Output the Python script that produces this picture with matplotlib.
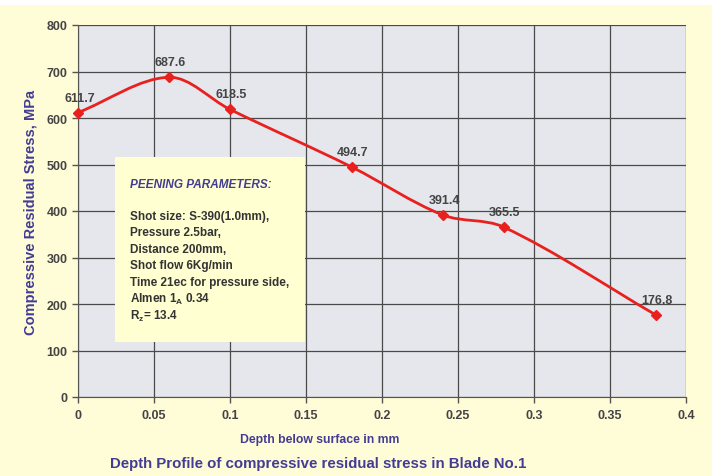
import matplotlib.pyplot as plt
import numpy as np
from matplotlib.path import Path
from matplotlib.patches import PathPatch, Rectangle

plt.rcParams['font.family'] = ['Liberation Sans', 'DejaVu Sans']

# data
depth = [0, 0.06, 0.1, 0.18, 0.24, 0.28, 0.38]
stress = [611.7, 687.6, 618.5, 494.7, 391.4, 365.5, 176.8]
x_ticks = [0, 0.05, 0.1, 0.15, 0.2, 0.25, 0.3, 0.35, 0.4]
x_tick_labels = ['0', '0.05', '0.1', '0.15', '0.2', '0.25', '0.3', '0.35', '0.4']
y_ticks = [0, 100, 200, 300, 400, 500, 600, 700, 800]

params_title = 'PEENING PARAMETERS:'
params_lines = ['Shot size: S-390(1.0mm),', 'Pressure 2.5bar,', 'Distance 200mm,',
                'Shot flow 6Kg/min', 'Time 21ec for pressure side,',
                r'Almen 1$_\mathregular{A}$ 0.34', r'R$_\mathregular{z}$= 13.4']

bg_yellow = '#FFFCD8'
plot_bg = '#E5E7EC'
line_red = '#E8211F'
label_blue = '#433C94'
tick_grey = '#444444'

fig = plt.figure(figsize=(7.12, 4.77), dpi=100, facecolor='white')
fig.patches.append(Rectangle((0, 0), 1, 471/477, transform=fig.transFigure,
                             facecolor=bg_yellow, edgecolor='none', zorder=-10))

ax = fig.add_axes([78/712, 79/477, 608/712, 372/477])
ax.set_facecolor(plot_bg)
ax.set_xlim(0, 0.4)
ax.set_ylim(0, 800)
ax.set_xticks(x_ticks)
ax.set_xticklabels(x_tick_labels)
ax.set_yticks(y_ticks)
ax.grid(True, color='#4a4a4a', linewidth=0.9)
ax.set_axisbelow(True)
for s in ['top', 'right']:
    ax.spines[s].set_visible(False)
for s in ['left', 'bottom']:
    ax.spines[s].set_color('#555555')
ax.tick_params(colors='#555555', labelcolor=tick_grey, length=4, width=1)
for lab in ax.get_xticklabels() + ax.get_yticklabels():
    lab.set_fontweight('bold')
    lab.set_fontsize(9)
ax.tick_params(axis='x', pad=5)

# smoothed line: chordal Catmull-Rom -> cubic Bezier, lengths measured on screen
pts = np.column_stack([depth, stress])
scr = ax.transData.transform(pts)
seg = np.hypot(*np.diff(scr, axis=0).T)
tang = np.zeros_like(pts)
tang[0] = (pts[1] - pts[0]) / seg[0]
tang[-1] = (pts[-1] - pts[-2]) / seg[-1]
for i in range(1, len(pts) - 1):
    tang[i] = (pts[i + 1] - pts[i - 1]) / (seg[i - 1] + seg[i])
verts = [tuple(pts[0])]
codes = [Path.MOVETO]
for i in range(len(pts) - 1):
    c1 = pts[i] + tang[i] * seg[i] / 3
    c2 = pts[i + 1] - tang[i + 1] * seg[i] / 3
    verts += [tuple(c1), tuple(c2), tuple(pts[i + 1])]
    codes += [Path.CURVE4] * 3
ax.add_patch(PathPatch(Path(verts, codes), facecolor='none', edgecolor=line_red,
                       linewidth=2, zorder=3))
ax.plot(depth, stress, linestyle='none', marker='D', markersize=5.5,
        color=line_red, zorder=4, clip_on=False)

for xv, yv in zip(depth, stress):
    ax.annotate(f'{yv}', (xv, yv), textcoords='offset points', xytext=(1, 6.5),
                ha='center', va='bottom', fontsize=9, fontweight='bold', color=tick_grey)

ax.set_ylabel('Compressive Residual Stress, MPa', fontsize=10.5, fontweight='bold',
              color=label_blue, labelpad=6)
fig.text(320 / 712, (477 - 440) / 477, 'Depth below surface in mm', ha='center', va='center',
         fontsize=8.8, fontweight='bold', color=label_blue)
fig.text(318 / 712, (477 - 464) / 477, 'Depth Profile of compressive residual stress in Blade No.1',
         ha='center', va='center', fontsize=10.8, fontweight='bold', color=label_blue)

# parameter box
bx0, bx1 = (115 - 78) / 608, (305 - 78) / 608
by0, by1 = (398 - 343) / 372, (398 - 158) / 372
ax.add_patch(Rectangle((bx0, by0), bx1 - bx0, by1 - by0, transform=ax.transAxes,
                       facecolor='#FFFFD2', edgecolor='none', zorder=6))
tx = (130 - 78) / 608
ax.text(tx, (398 - 185) / 372, params_title, transform=ax.transAxes, fontsize=8.5,
        fontweight='bold', fontstyle='italic', color=label_blue, va='center', zorder=7)
for k, line in enumerate(params_lines):
    ax.text(tx, (398 - (217 + 16.5 * k)) / 372, line, transform=ax.transAxes, fontsize=8.5,
            fontweight='bold', color='#333333', va='center', zorder=7)

fig.savefig('out.png', dpi=100, facecolor=fig.get_facecolor())
